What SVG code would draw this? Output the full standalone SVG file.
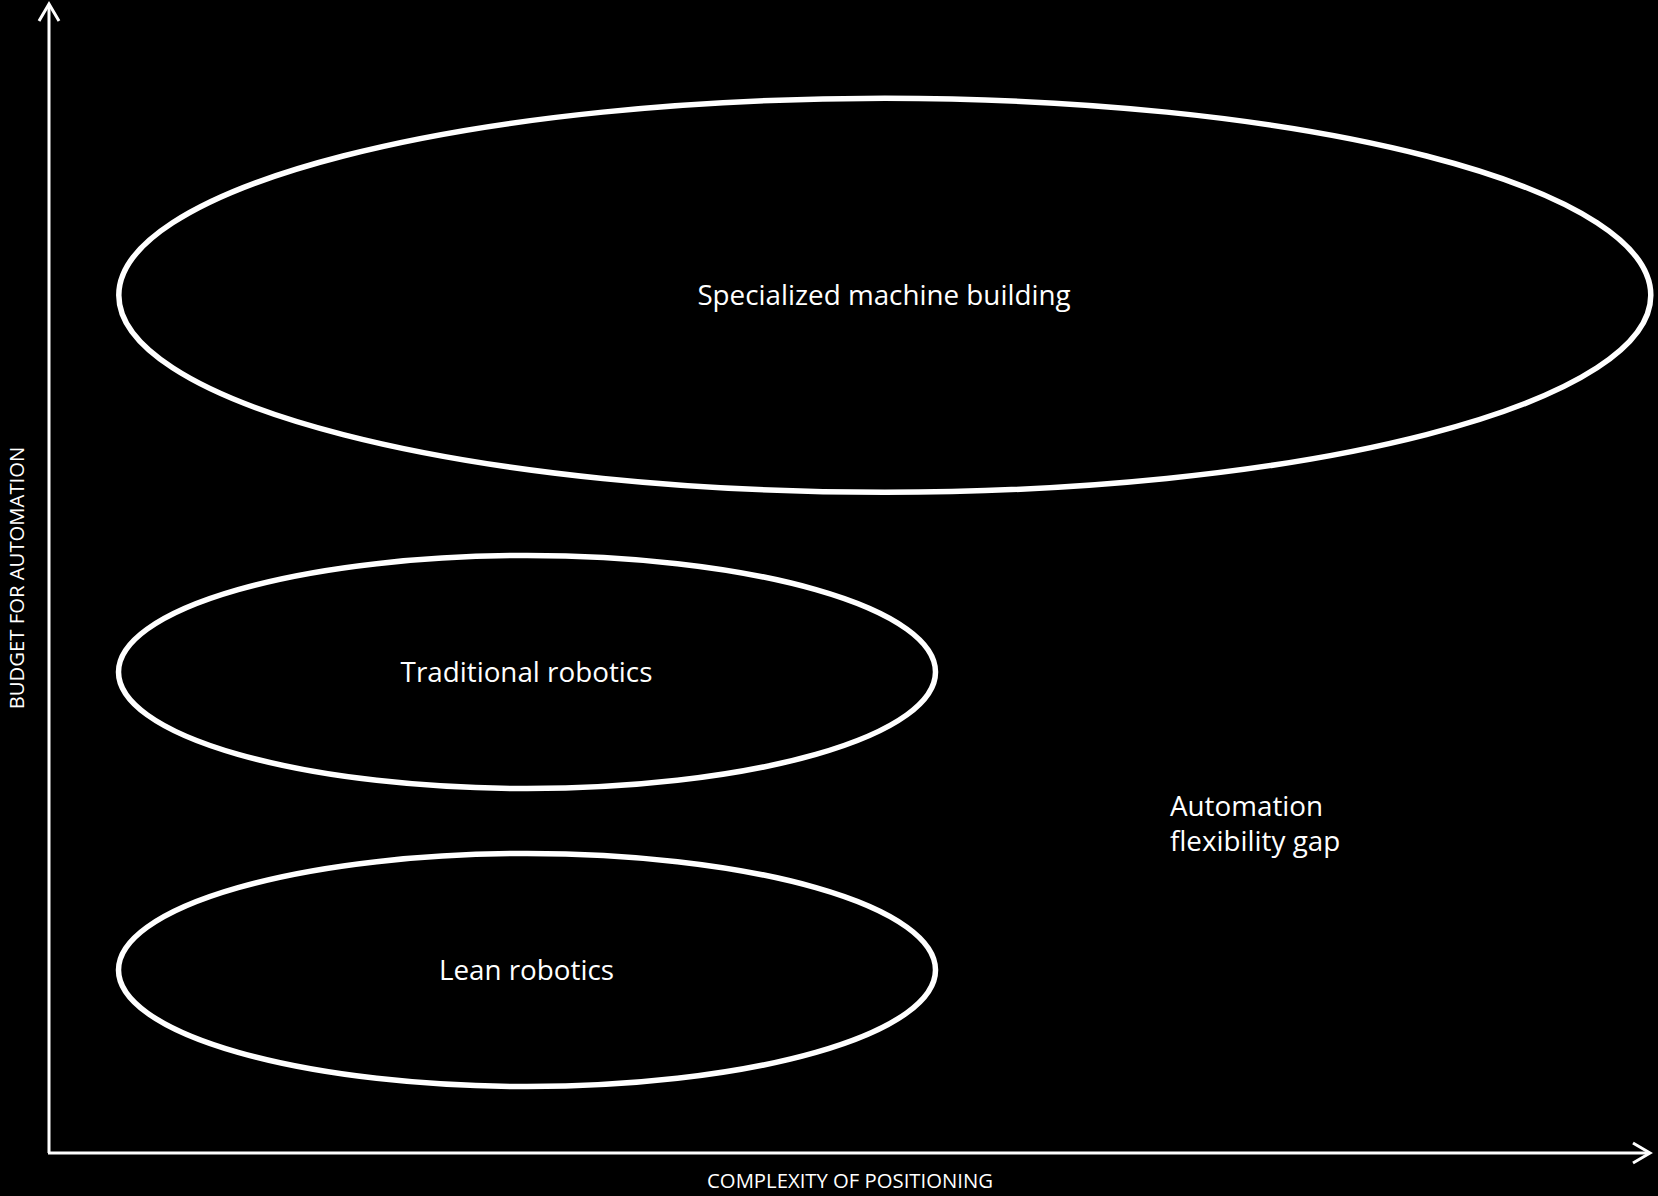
<svg xmlns="http://www.w3.org/2000/svg" width="1658" height="1196" viewBox="0 0 1658 1196">
<style>
.bg{fill:#000}
.ell{fill:none;stroke:#fff;stroke-width:5.5}
.axis{fill:none;stroke:#fff;stroke-width:3}
.lbl{fill:#fff;font-family:"Open Sans","Liberation Sans",sans-serif;font-size:27.8px}
.ax{fill:#fff;font-family:"Open Sans","Liberation Sans",sans-serif;font-size:20.3px}
</style>
<rect class="bg" x="0" y="0" width="1658" height="1196"/>
<g id="connectors">
<path class="axis" d="M49,1153 L49,5"/>
<path class="axis" d="M39,21 L49,4 L59,21"/>
<path class="axis" d="M48,1153 L1649,1153"/>
<path class="axis" d="M1633,1143 L1650,1153 L1633,1163"/>
</g>
<g id="axis-y-label"><text class="ax" transform="translate(24,578) rotate(-90)" text-anchor="middle">BUDGET FOR AUTOMATION</text></g>
<g id="axis-x-label"><text class="ax" x="850" y="1188" text-anchor="middle">COMPLEXITY OF POSITIONING</text></g>
<g id="specialized">
<ellipse class="ell" cx="884.8" cy="295.3" rx="766" ry="197"/>
<text class="lbl" x="884" y="304.5" text-anchor="middle">Specialized machine building</text>
</g>
<g id="traditional">
<ellipse class="ell" cx="527" cy="672" rx="408.5" ry="116.5"/>
<text class="lbl" x="526.5" y="682" text-anchor="middle">Traditional robotics</text>
</g>
<g id="lean">
<ellipse class="ell" cx="527" cy="970" rx="408.5" ry="116.5"/>
<text class="lbl" x="526.5" y="980" text-anchor="middle">Lean robotics</text>
</g>
<g id="gap">
<text class="lbl" x="1170" y="816">Automation</text>
<text class="lbl" x="1170" y="851">flexibility gap</text>
</g>
</svg>
